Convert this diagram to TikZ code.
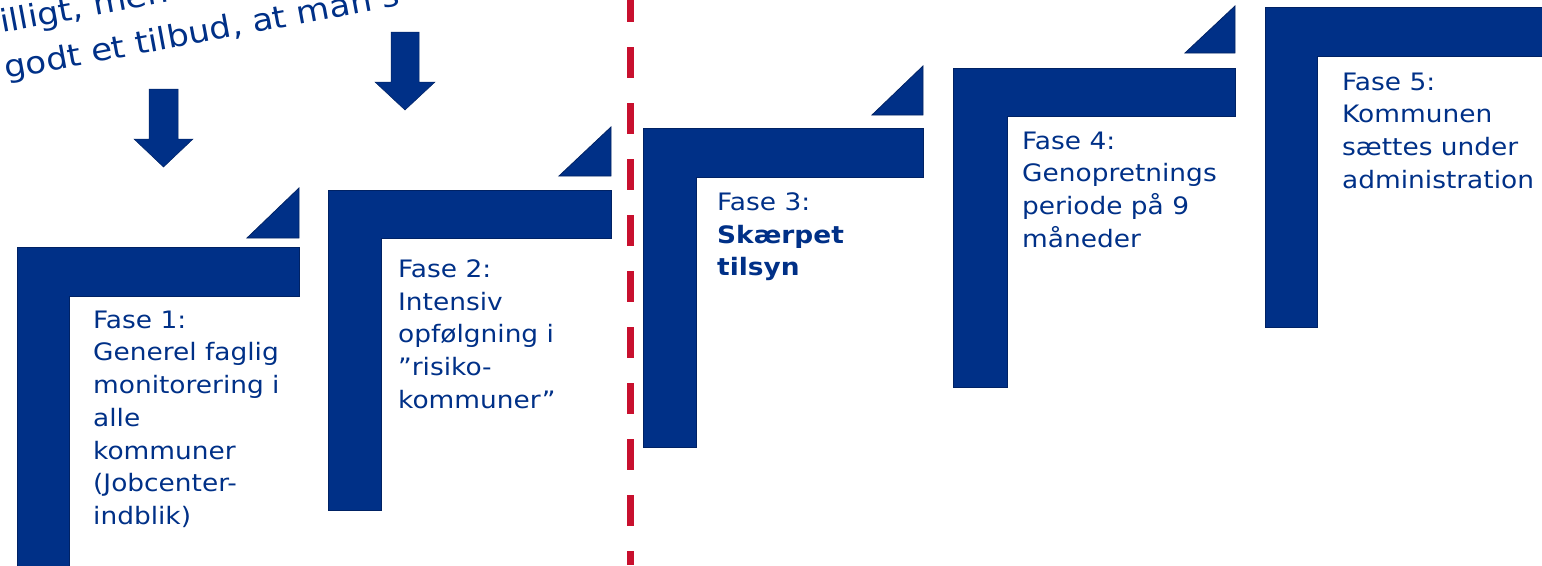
\documentclass[tikz,border=0pt]{standalone}
\usepackage{fontspec}
\setmainfont{DejaVu Sans}[FakeStretch=1.1]
\definecolor{navy}{RGB}{0,48,135}
\definecolor{navyline}{RGB}{0,34,100}
\definecolor{dashred}{RGB}{200,16,46}
\begin{document}
\begin{tikzpicture}[x=1pt,y=-1pt,
  stepshape/.style={fill=navy,draw=navyline,line width=0.8pt},
  blockarrow/.style={fill=navy,draw=navyline,line width=0.5pt},
  phase/.style={anchor=north west,inner sep=0pt,text=navy,align=left,
    font=\fontsize{24}{32.7}\selectfont},
  slanted/.style={anchor=base west,inner sep=0pt,text=navy,rotate=10.5,
    font=\fontsize{31}{40}\selectfont},
  divider/.style={draw=dashred,line width=7pt,dash pattern=on 31pt off 25pt,dash phase=9pt}]
\useasboundingbox (0,0) rectangle (1542,565);
\clip (0,0) rectangle (1542,565);

% slanted heading (cut by the top edge)
\node[slanted] (head1) at (2,33) {illigt, men};
\node[slanted] (head2) at (6,79) {godt et tilbud, at man s};

% block arrows
\fill[blockarrow] (149,89) -- (178,89) -- (178,139) -- (193,139) -- (163.5,167) -- (134,139) -- (149,139) -- cycle;
\fill[blockarrow] (391,32) -- (419,32) -- (419,82) -- (435,82) -- (405,110) -- (375,82) -- (391,82) -- cycle;

% dashed divider
\coordinate (dtop) at (630,0);
\coordinate (dbot) at (630,565);
\draw[divider] (dtop) -- (dbot);

% steps: L-shapes
\filldraw[stepshape] (17,247) -- (299,247) -- (299,296) -- (69,296) -- (69,575) -- (17,575) -- cycle;
\filldraw[stepshape] (328,190) -- (611,190) -- (611,238) -- (381,238) -- (381,510) -- (328,510) -- cycle;
\filldraw[stepshape] (643,128) -- (923,128) -- (923,177) -- (696,177) -- (696,447) -- (643,447) -- cycle;
\filldraw[stepshape] (953,68) -- (1235,68) -- (1235,116) -- (1007,116) -- (1007,387) -- (953,387) -- cycle;
\filldraw[stepshape] (1265,7) -- (1560,7) -- (1560,56) -- (1317,56) -- (1317,327) -- (1265,327) -- cycle;

% corner triangles
\filldraw[stepshape] (247,238) -- (299,238) -- (299,188) -- cycle;
\filldraw[stepshape] (559,176) -- (611,176) -- (611,127) -- cycle;
\filldraw[stepshape] (872,115) -- (923,115) -- (923,66) -- cycle;
\filldraw[stepshape] (1185,53) -- (1235,53) -- (1235,6) -- cycle;

% texts
\node[phase] (f1) at (93,310.5) {Fase 1:\\Generel faglig\\monitorering i\\alle\\kommuner\\(Jobcenter-\\indblik)};
\node[phase] (f2) at (398,259.5) {Fase 2:\\Intensiv\\opfølgning i\\”risiko-\\kommuner”};
\node[phase] (f3) at (717,192.5) {Fase 3:\\\textbf{Skærpet}\\\textbf{tilsyn}};
\node[phase] (f4) at (1022,131.5) {Fase 4:\\Genopretnings\\periode på 9\\måneder};
\node[phase] (f5) at (1342,72.5) {Fase 5:\\Kommunen\\sættes under\\administration};
\end{tikzpicture}
\end{document}
